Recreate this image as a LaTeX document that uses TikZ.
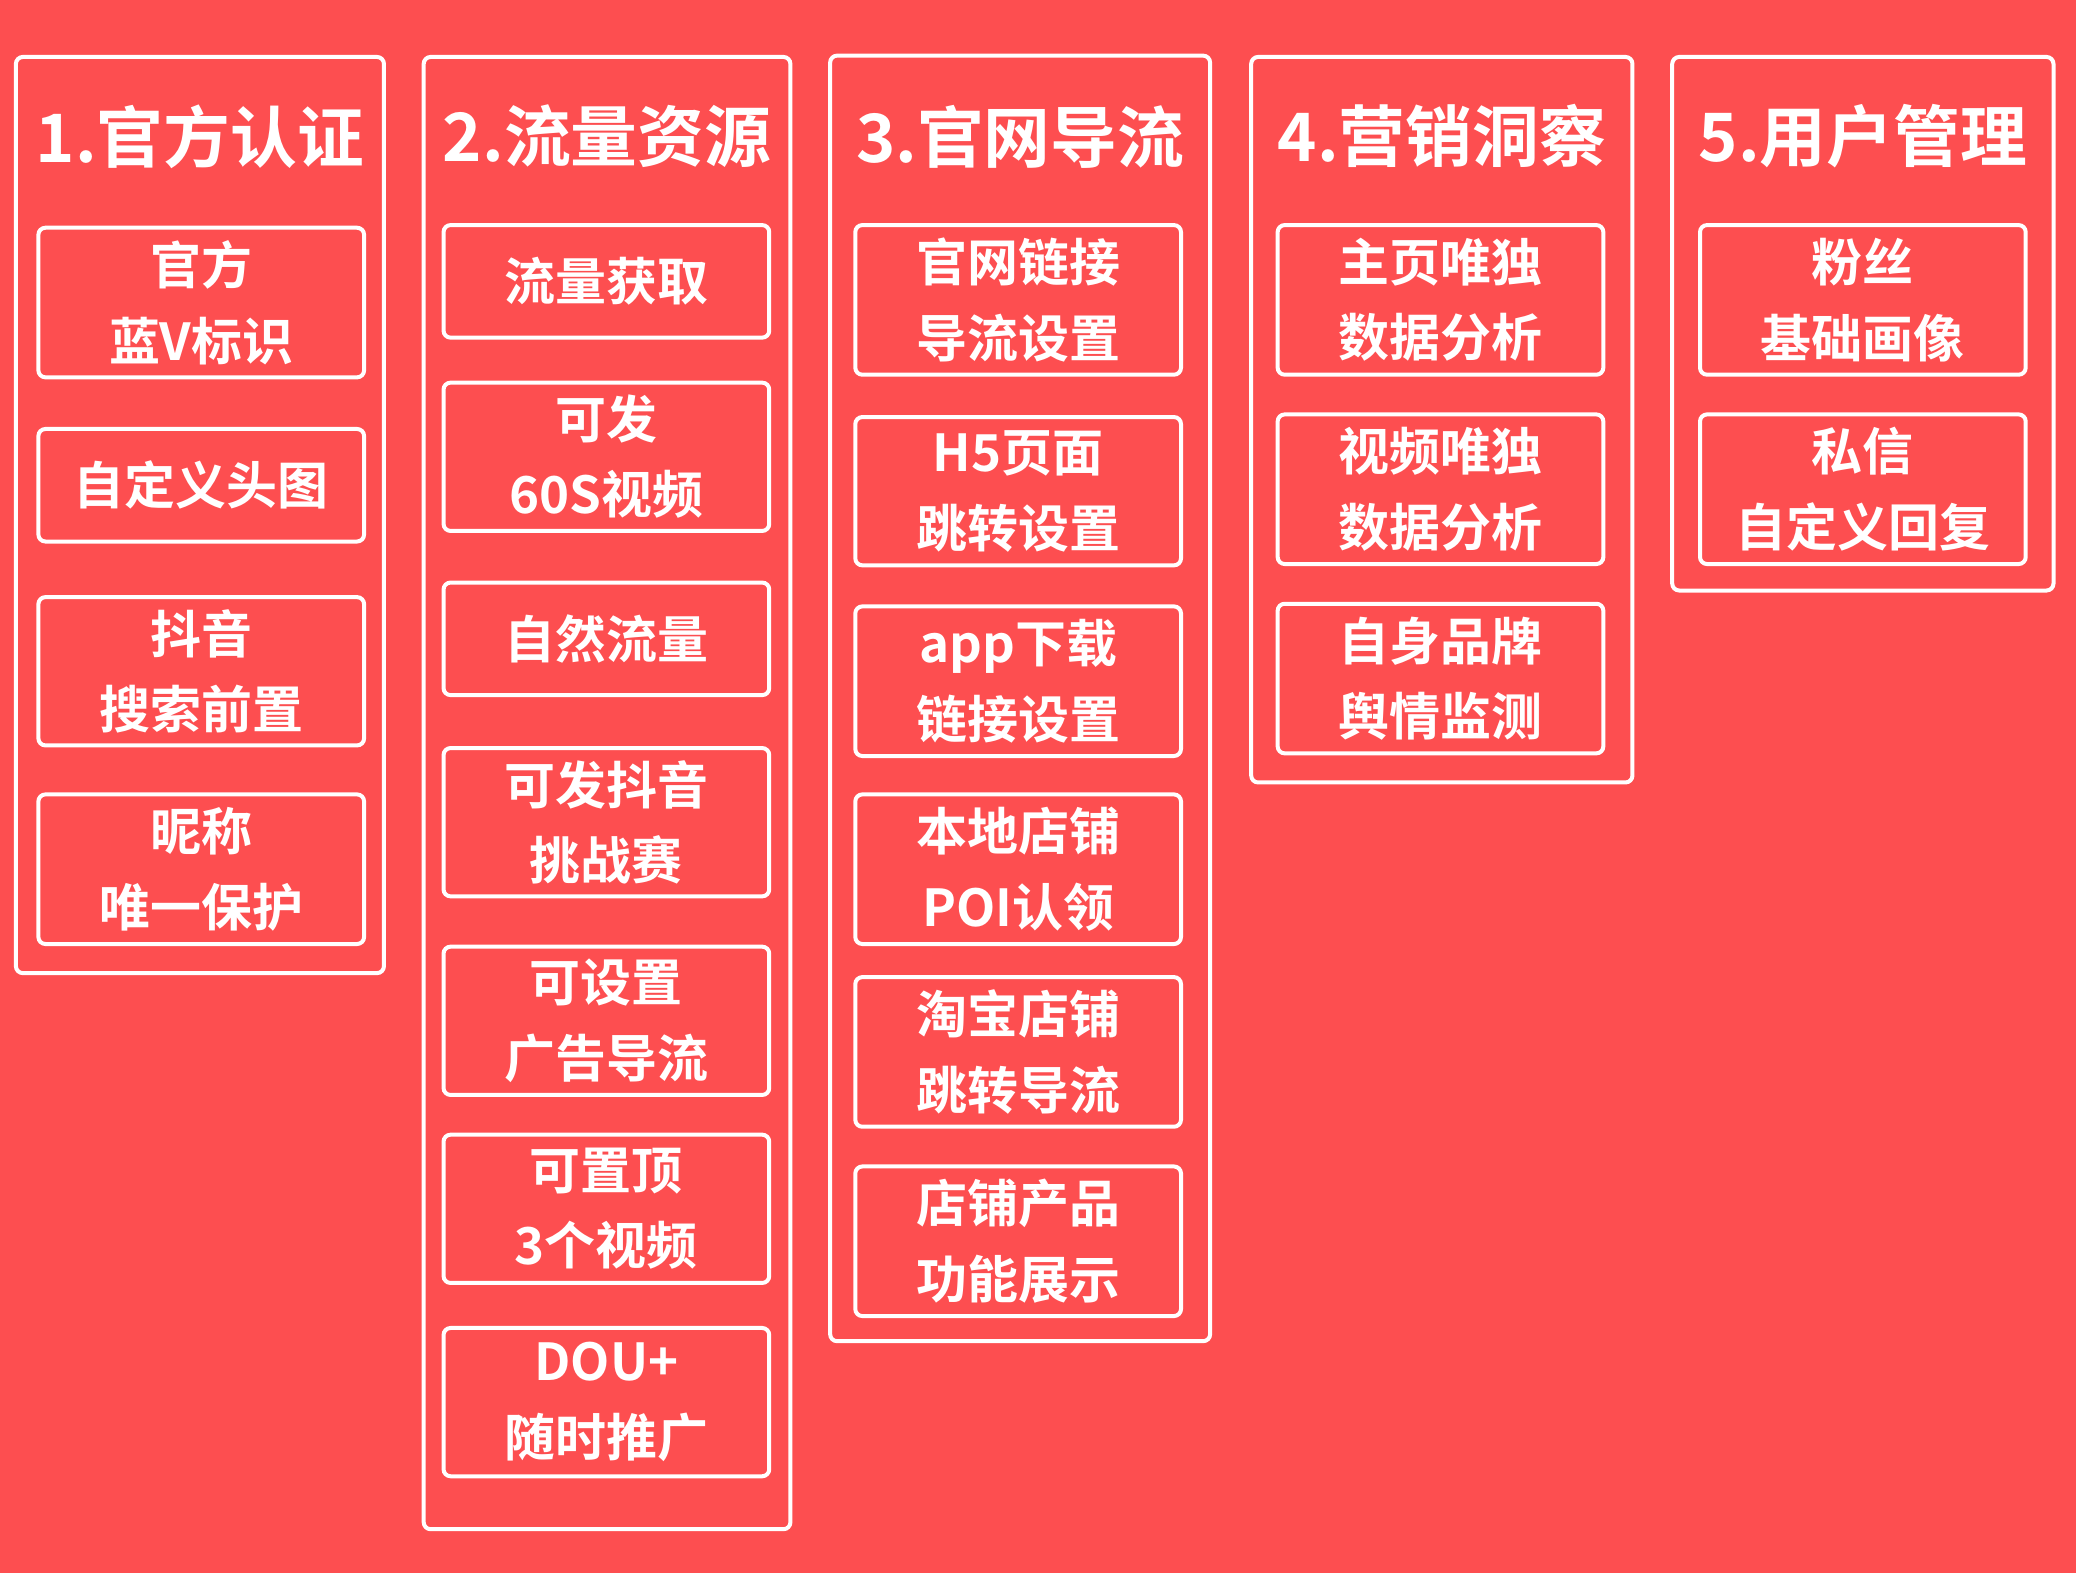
\documentclass[tikz,border=0pt]{standalone}
\usepackage{fontspec}
\setmainfont{Noto Sans CJK SC Bold}
\definecolor{bg}{HTML}{FD4E50}
\begin{document}
\begin{tikzpicture}[x=0.1324mm,y=-0.1324mm,
  col/.style={draw=white,line width=0.4mm,rounded corners=2pt},
  itm/.style={draw=white,line width=0.4mm,rounded corners=2pt},
  ttl/.style={text=white,font=\fontsize{19}{22}\selectfont},
  txt/.style={text=white,align=center,font=\fontsize{14.5}{21.5}\selectfont}]
\fill[bg] (0,0) rectangle (1568,1188);
\useasboundingbox (0,0) rectangle (1568,1188);
\newcommand\colbox[5]{\draw[col] (#1,#3) rectangle (#2,#4);
  \node[ttl] (t#5) at ({(#1+#2)/2},103) {#5};}
\newcommand\itembox[6]{\draw[itm] (#1,#3) rectangle (#2,#4);
  \node[txt] (#5) at ({(#1+#2)/2},{(#3+#4)/2}) {#6};}
\colbox{12}{290}{43}{735}{1.官方认证}
\colbox{320}{597}{43}{1155}{2.流量资源}
\colbox{627}{914}{42}{1013}{3.官网导流}
\colbox{945}{1233}{43}{591}{4.营销洞察}
\colbox{1263}{1551}{43}{446}{5.用户管理}
\itembox{29}{275}{172}{285}{a1}{官方\\蓝V标识}
\itembox{29}{275}{324}{409}{a2}{自定义头图}
\itembox{29}{275}{451}{563}{a3}{抖音\\搜索前置}
\itembox{29}{275}{600}{713}{a4}{昵称\\唯一保护}
\itembox{335}{581}{170}{255}{b1}{流量获取}
\itembox{335}{581}{289}{401}{b2}{可发\\60S视频}
\itembox{335}{581}{440}{525}{b3}{自然流量}
\itembox{335}{581}{565}{677}{b4}{可发抖音\\挑战赛}
\itembox{335}{581}{715}{827}{b5}{可设置\\广告导流}
\itembox{335}{581}{857}{969}{b6}{可置顶\\3个视频}
\itembox{335}{581}{1003}{1115}{b7}{DOU+\\随时推广}
\itembox{646}{892}{170}{283}{c1}{官网链接\\导流设置}
\itembox{646}{892}{315}{427}{c2}{H5页面\\跳转设置}
\itembox{646}{892}{458}{571}{c3}{app下载\\链接设置}
\itembox{646}{892}{600}{713}{c4}{本地店铺\\POI认领}
\itembox{646}{892}{738}{851}{c5}{淘宝店铺\\跳转导流}
\itembox{646}{892}{881}{994}{c6}{店铺产品\\功能展示}
\itembox{965}{1211}{170}{283}{d1}{主页唯独\\数据分析}
\itembox{965}{1211}{313}{426}{d2}{视频唯独\\数据分析}
\itembox{965}{1211}{456}{569}{d3}{自身品牌\\舆情监测}
\itembox{1284}{1530}{170}{283}{e1}{粉丝\\基础画像}
\itembox{1284}{1530}{313}{426}{e2}{私信\\自定义回复}
\end{tikzpicture}
\end{document}
